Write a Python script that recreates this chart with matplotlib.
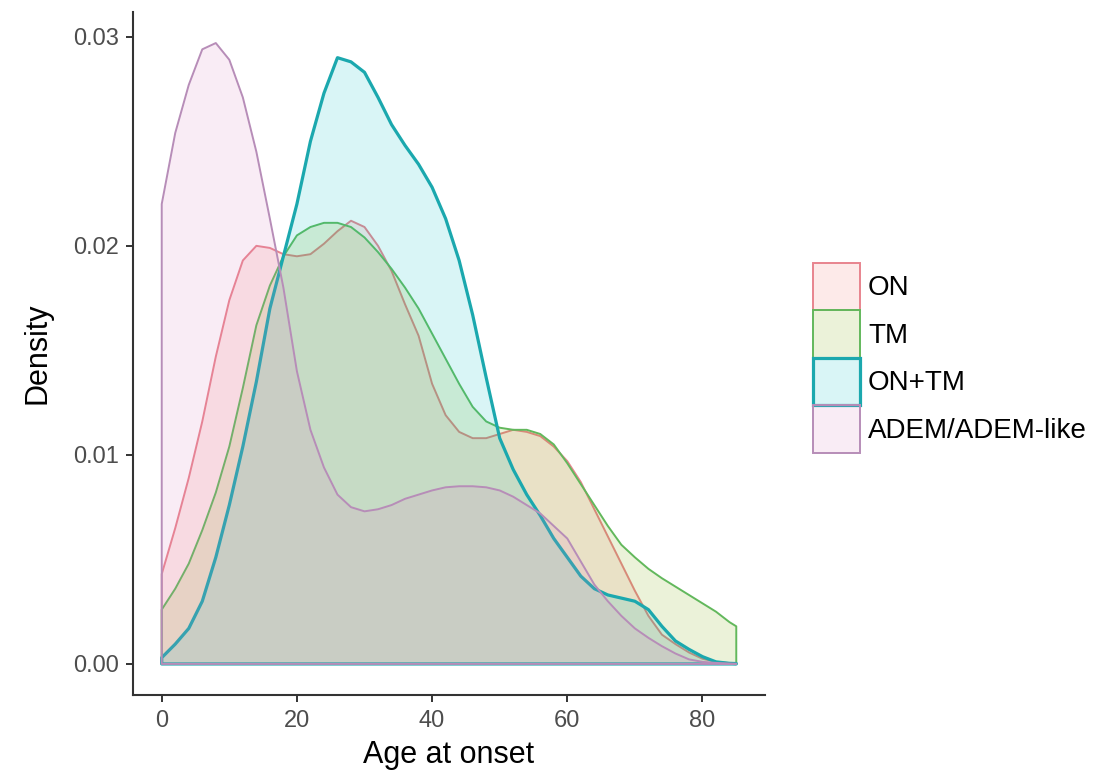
import matplotlib
matplotlib.use("Agg")
import matplotlib.pyplot as plt
from matplotlib.patches import Patch
from matplotlib.colors import to_rgba
import numpy as np

plt.rcParams['font.family'] = ['Liberation Sans', 'DejaVu Sans']

# density estimates of age at onset, per group (values x 1e-3)
ages = list(range(0, 85, 2)) + [85]

on_dens = [4.3, 6.5, 8.9, 11.6, 14.7, 17.4, 19.3, 20.0, 19.9, 19.6,
           19.5, 19.6, 20.1, 20.7, 21.2, 20.9, 20.0, 18.8, 17.2, 15.7,
           13.4, 11.9, 11.1, 10.8, 10.8, 11.0, 11.2, 11.1, 10.9, 10.4,
           9.7, 8.7, 7.4, 6.1, 4.8, 3.5, 2.3, 1.4, 0.95, 0.55,
           0.25, 0.1, 0.04, 0.03]
tm_dens = [2.6, 3.6, 4.8, 6.4, 8.2, 10.4, 13.2, 16.2, 18.1, 19.5,
           20.5, 20.9, 21.1, 21.1, 20.9, 20.4, 19.7, 18.9, 18.0, 17.0,
           15.8, 14.6, 13.4, 12.3, 11.6, 11.3, 11.2, 11.2, 11.0, 10.5,
           9.6, 8.6, 7.6, 6.6, 5.7, 5.1, 4.55, 4.1, 3.7, 3.3,
           2.9, 2.5, 2.0, 1.8]
ontm_dens = [0.3, 0.95, 1.7, 3.0, 5.1, 7.6, 10.4, 13.5, 17.0, 19.5,
             22.0, 25.0, 27.3, 29.0, 28.8, 28.3, 27.1, 25.8, 24.8, 23.9,
             22.8, 21.3, 19.3, 16.7, 13.7, 10.8, 9.3, 8.1, 7.1, 6.0,
             5.1, 4.2, 3.6, 3.3, 3.15, 3.0, 2.6, 1.8, 1.1, 0.7,
             0.35, 0.1, 0.03, 0.02]
adem_dens = [22.0, 25.4, 27.7, 29.4, 29.7, 28.9, 27.1, 24.5, 21.3, 18.0,
             14.0, 11.2, 9.4, 8.1, 7.5, 7.3, 7.4, 7.6, 7.9, 8.1,
             8.3, 8.45, 8.5, 8.5, 8.45, 8.3, 8.0, 7.6, 7.2, 6.6,
             6.0, 4.9, 3.8, 3.0, 2.3, 1.7, 1.25, 0.85, 0.5, 0.22,
             0.1, 0.05, 0.02, 0.01]

groups = ['ON', 'TM', 'ON+TM', 'ADEM/ADEM-like']
series = [on_dens, tm_dens, ontm_dens, adem_dens]
fills = ['#F8766D', '#7CAE00', '#00BFC4', '#DD80C0']
lines = ['#E8848E', '#62B85C', '#1BA8AE', '#B78DB8']
widths = [1.4, 1.4, 2.3, 1.4]
alpha = 0.15

fig = plt.figure(figsize=(10.94, 7.72), dpi=100)
ax = fig.add_axes([133/1094, 1 - 695/772, (765-133)/1094, (695-12)/772])

x = np.array(ages, dtype=float)
for name, d, fc, lc, lw in zip(groups, series, fills, lines, widths):
    y = np.array(d) / 1000
    px = np.r_[x, x[-1], x[0]]
    py = np.r_[y, 0, 0]
    ax.fill(px, py, facecolor=to_rgba(fc, alpha), edgecolor=lc, lw=lw,
            joinstyle='round')

ymax = max(max(d) for d in series) / 1000
ax.set_xlim(-0.05 * 85, 85 * 1.05)
ax.set_ylim(-0.05 * ymax, 1.05 * ymax)
ax.set_xticks([0, 20, 40, 60, 80])
ax.set_yticks([0, 0.01, 0.02, 0.03])
ax.set_yticklabels(['0.00', '0.01', '0.02', '0.03'])

for s in ['top', 'right']:
    ax.spines[s].set_visible(False)
for s in ['left', 'bottom']:
    ax.spines[s].set_color('#333333')
    ax.spines[s].set_linewidth(1.5)
ax.tick_params(axis='both', colors='#333333', width=1.4, length=5,
               labelsize=17, labelcolor='#4d4d4d')
ax.tick_params(axis='x', pad=6)
ax.tick_params(axis='y', pad=5)

ax.set_xlabel('Age at onset', fontsize=22)
ax.set_ylabel('Density', fontsize=22)
ax.xaxis.set_label_coords(0.5, -0.066)
ax.yaxis.set_label_coords(-0.128, 0.5)

# legend keys: square boxes stacked with no gap
handles = [Patch(facecolor=to_rgba(fc, alpha), edgecolor=lc, lw=lw)
           for fc, lc, lw in zip(fills, lines, widths)]
fs = 20
fs_px = fs * 100 / 72
key = 47.5 / fs_px
leg = fig.legend(handles, groups, loc='upper left',
                 bbox_to_anchor=(813/1094, 1 - 263/772),
                 frameon=False, fontsize=fs, borderpad=0, borderaxespad=0,
                 handlelength=47/fs_px, handleheight=(key - 0.245) / 0.65,
                 handletextpad=8/fs_px, labelspacing=0)

fig.savefig('out.png', dpi=100)
